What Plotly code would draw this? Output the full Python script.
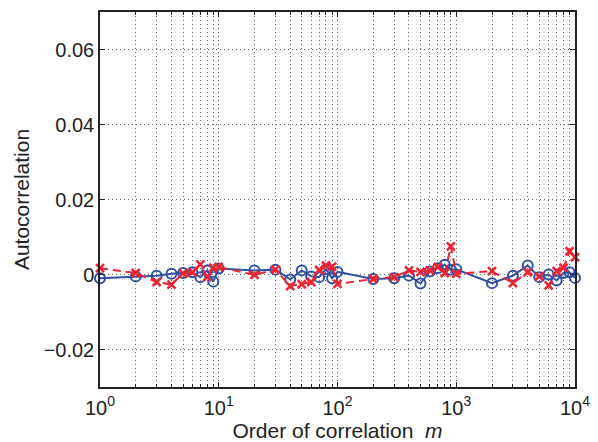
import plotly.graph_objects as go

# order of correlation m: 1..10, 20..100, 200..1000, 2000..10000
m_values = [1, 2, 3, 4, 5, 6, 7, 8, 9, 10,
            20, 30, 40, 50, 60, 70, 80, 90, 100,
            200, 300, 400, 500, 600, 700, 800, 900, 1000,
            2000, 3000, 4000, 5000, 6000, 7000, 8000, 9000, 10000]

blue_series = [-0.0010, -0.0005, -0.0003, 0.0002, 0.0004, 0.0006, -0.0007, 0.0011, -0.0019, 0.0016,
               0.0011, 0.0013, -0.0013, 0.0011, -0.0005, -0.0007, 0.0014, -0.0010, 0.0007,
               -0.0012, -0.0010, -0.0003, -0.0024, 0.0008, 0.0017, 0.0026, 0.0013, 0.0014,
               -0.0023, -0.0003, 0.0024, -0.0007, 0.0000, -0.0016, 0.0004, 0.0006, -0.0009]

red_series = [0.0017, 0.0004, -0.0020, -0.0027, 0.0003, 0.0006, 0.0027, -0.0007, 0.0018, 0.0020,
              -0.0001, 0.0013, -0.0031, -0.0026, -0.0020, 0.0012, 0.0024, 0.0021, -0.0025,
              -0.0012, -0.0007, 0.0011, 0.0007, 0.0011, 0.0020, 0.0004, 0.0075, 0.0002,
              0.0009, -0.0023, 0.0006, -0.0005, -0.0029, 0.0009, 0.0018, 0.0062, 0.0046]

y_ticks = [-0.02, 0, 0.02, 0.04, 0.06]
y_tick_labels = ["\u22120.02", "0", "0.02", "0.04", "0.06"]
x_decades = [1, 10, 100, 1000, 10000]
x_decade_labels = ["10<sup>0</sup>", "10<sup>1</sup>", "10<sup>2</sup>", "10<sup>3</sup>", "10<sup>4</sup>"]

# minor log grid positions (2..9 x 10^k)
x_minor = [j * 10 ** k for k in range(4) for j in range(2, 10)]

BLUE = "#3150A2"
RED = "#EE2330"
FS = 21
TFS = 20
GRID = dict(showgrid=True, gridcolor="#666", griddash="1px,3px", gridwidth=1)

fig = go.Figure()
fig.add_trace(go.Scatter(
    x=m_values, y=blue_series, mode="lines+markers",
    line=dict(color=BLUE, width=2),
    marker=dict(symbol="circle-open", size=10, color=BLUE, line=dict(width=2, color=BLUE)),
    showlegend=False, cliponaxis=False))
fig.add_trace(go.Scatter(
    x=m_values, y=red_series, mode="lines+markers",
    line=dict(color=RED, width=2, dash="8px,5px"),
    marker=dict(symbol="x-thin-open", size=8, color=RED, line=dict(width=2.5, color=RED)),
    showlegend=False, cliponaxis=False))

fig.update_layout(
    width=598, height=442,
    margin=dict(l=100, r=23, t=12, b=55, autoexpand=False),
    paper_bgcolor="white", plot_bgcolor="white",
    font=dict(family="Liberation Sans, Arial, sans-serif", size=FS, color="#222"),
    xaxis=dict(
        type="log", range=[0, 4], automargin=False,
        tickmode="array", tickvals=x_decades, ticktext=x_decade_labels,
        ticks="inside", ticklen=5, tickcolor="#222", tickwidth=1,
        ticklabelstandoff=2,
        minor=dict(tickmode="array", tickvals=x_minor, ticks="inside", ticklen=3,
                   tickcolor="#222", **GRID),
        **GRID,
        showline=True, linecolor="#222", linewidth=1.5, mirror="ticks",
        zeroline=False,
        title=dict(text="Order of correlation  <i>m</i>", standoff=0, font=dict(size=FS)),
        tickfont=dict(size=TFS),
    ),
    yaxis=dict(
        range=[-0.03, 0.07], automargin=False,
        tickmode="array", tickvals=y_ticks, ticktext=y_tick_labels,
        ticks="inside", ticklen=5, tickcolor="#222", tickwidth=1,
        **GRID,
        showline=True, linecolor="#222", linewidth=1.5, mirror="ticks",
        zeroline=False,
        title=dict(text="Autocorrelation", standoff=8, font=dict(size=FS)),
        tickfont=dict(size=TFS),
    ),
)

fig.write_html("out.html")
